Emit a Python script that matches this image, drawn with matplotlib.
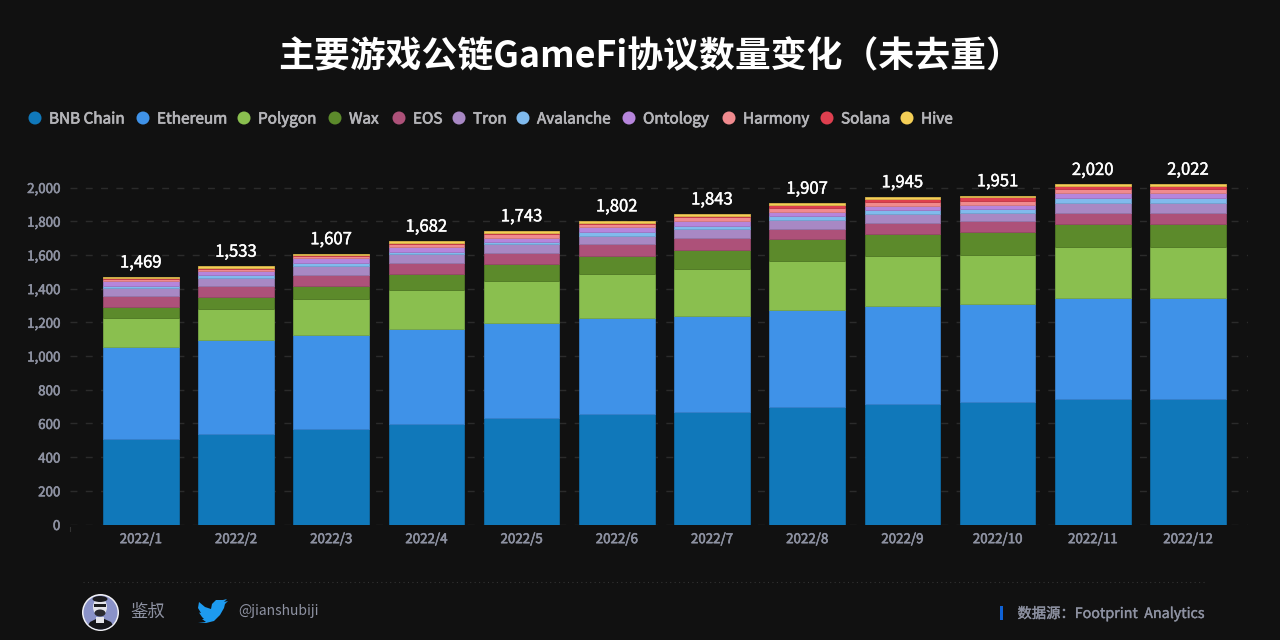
import matplotlib
matplotlib.use("Agg")
import matplotlib.pyplot as plt
import matplotlib.patheffects as pe
from matplotlib.patches import Circle, Polygon, Ellipse, Rectangle
from matplotlib.colors import to_rgb

plt.rcParams['font.family'] = ['Noto Sans CJK SC', 'DejaVu Sans']

months = ['2022/1','2022/2','2022/3','2022/4','2022/5','2022/6','2022/7','2022/8','2022/9','2022/10','2022/11','2022/12']
totals = [1469,1533,1607,1682,1743,1802,1843,1907,1945,1951,2020,2022]
chains = ['BNB Chain','Ethereum','Polygon','Wax','EOS','Tron','Avalanche','Ontology','Harmony','Solana','Hive']
bnb  = [505,535,565,595,632,655,667,700,717,728,745,745]
eth  = [550,557,560,565,565,570,568,575,580,582,600,600]
poly = [173,188,213,230,248,260,283,290,295,290,303,303]
wax  = [62,70,80,97,103,110,113,127,134,133,137,137]
eos  = [68,65,62,65,62,68,67,60,62,67,65,65]
tron = [45,50,56,53,53,49,54,55,55,48,58,58]
aval = [12,15,14,15,15,24,21,24,24,23,32,32]
onto = [32,26,30,25,24,29,28,24,22,25,25,25]
harm = [10,12,15,20,20,17,22,25,25,26,26,26]
sol  = [3,4,3,7,8,9,8,16,20,20,20,20]
hive = [9,11,9,10,13,11,12,11,11,9,7,9]
series = [bnb,eth,poly,wax,eos,tron,aval,onto,harm,sol,hive]
colors = ['#1078BA','#3F92E8','#8ABF4F','#5C8A2B','#AD5179','#A888C4','#80BAED','#B685DC','#F08A8E','#DE3F4F','#F5CF56']
yticks = [0,200,400,600,800,1000,1200,1400,1600,1800,2000]

BG = '#111111'
W, H = 1280, 640
fig = plt.figure(figsize=(12.8, 6.4), dpi=100, facecolor=BG)

def thick(t, c, lw=0.45):
    t.set_path_effects([pe.withStroke(linewidth=lw, foreground=c)])
    return t

pg = fig.add_axes([0,0,1,1], zorder=0)
pg.set_xlim(0,W); pg.set_ylim(H,0); pg.axis('off')

left, right = 70, 1248
y0, ppu = 524.5, 0.1685
top = y0 - 2100*ppu
ax = fig.add_axes([left/W, 1-y0/H, (right-left)/W, (y0-top)/H], zorder=1)
ax.patch.set_alpha(0)
xs = list(range(len(months)))
ax.set_xlim((left-140.8)/95.2, (right-140.8)/95.2)
ax.set_ylim(0, 2100)
bottom = [0]*len(months)
for vals, c in zip(series, colors):
    edge = tuple(v*0.88 for v in to_rgb(c))
    ax.bar(xs, vals, bottom=bottom, width=0.795, color=c, edgecolor=edge, linewidth=0.6, zorder=3)
    bottom = [b+v for b, v in zip(bottom, vals)]
for x, b, t in zip(xs, bottom, totals):
    a = ax.annotate(f'{t:,}', (x, b), xytext=(0, 14/100*72), textcoords='offset points', ha='center', va='center',
                color='white', fontsize=12, zorder=5, clip_on=False)
    thick(a, 'white', 0.3)
ax.set_yticks(yticks)
ax.set_yticklabels([f'{v:,}' for v in yticks])
ax.set_xticks(xs)
ax.set_xticklabels(months)
ax.tick_params(axis='y', length=0, pad=7, labelsize=9.6, labelcolor='#8E92A2')
ax.tick_params(axis='x', length=0, pad=5.5, labelsize=9.6, labelcolor='#8E92A2')
for l in ax.get_xticklabels()+ax.get_yticklabels():
    thick(l, '#8E92A2', 0.4)
ax.grid(axis='y', color='#2B2B2B', linewidth=1, linestyle=(0,(5,6)), zorder=1)
ax.grid(axis='x', visible=False)
for s in ax.spines.values():
    s.set_visible(False)

pg.plot([69.5,69.5],[527,531], color='#333333', lw=0.8)

pg.text(650, 57, '主要游戏公链GameFi协议数量变化（未去重）', ha='center', va='center',
        color='white', fontsize=25.8, fontweight='bold')

dots = [35,143,244,335,399,459,523,629,729,827,907]
for d, name, c in zip(dots, chains, colors):
    pg.add_patch(Circle((d,118), 6.5, color=c, lw=0))
    thick(pg.text(d+14, 119, name, ha='left', va='center', color='#B4B4B8', fontsize=11), '#B4B4B8', 0.5)

pg.plot([83,1205],[582,582], color='#333333', lw=0.8, linestyle=(0,(1,3)))

clip = Circle((100.5,612.5), 17, transform=pg.transData)
pg.add_patch(Circle((100.5,612.5), 18.5, color='#F0F0F4', lw=0))
pg.add_patch(Circle((100.5,612.5), 17, color='#8A92C8', lw=0))
avatar = [Polygon([(84,632),(90,622),(100,617),(111,622),(117,632)], color='#15151A', lw=0),
          Rectangle((96,617), 8, 6, color='#E4E4EA', lw=0),
          Ellipse((100,607), 14, 18, color='#E4E4EA', lw=0),
          Ellipse((100,599), 15, 6, color='#1A1A1E', lw=0),
          Ellipse((100,613), 11, 7, color='#2A2A30', lw=0),
          Rectangle((94,604), 12, 2.5, color='#1A1A1E', lw=0)]
for p in avatar:
    pg.add_patch(p)
    p.set_clip_path(clip)

pg.text(130, 612, '鉴叔', ha='left', va='center', color='#8E92A2', fontsize=12.5)
bird = [(198,622),(206,623),(214,621),(220,615),(224,608),(225,604),(228,601),(224,602),(227,599),
        (223,600),(220,600),(216,600),(212,604),(211,609),(205,607),(199,602),(198,608),(201,613),(199,612.5),
        (202,617),(204,619),(202,619),(206,622)]
pg.add_patch(Polygon(bird, color='#1D9BF0', lw=0))
pg.text(238, 611.5, '@jianshubiji', ha='left', va='center', color='#8E92A2', fontsize=10)
pg.add_patch(Rectangle((1000,606), 2.5, 14, color='#0F62D6', lw=0))
thick(pg.text(1205, 613.5, '数据源：Footprint  Analytics', ha='right', va='center', color='#8E92A2', fontsize=10.3), '#8E92A2', 0.25)

fig.savefig('out.png', dpi=100, facecolor=BG)
